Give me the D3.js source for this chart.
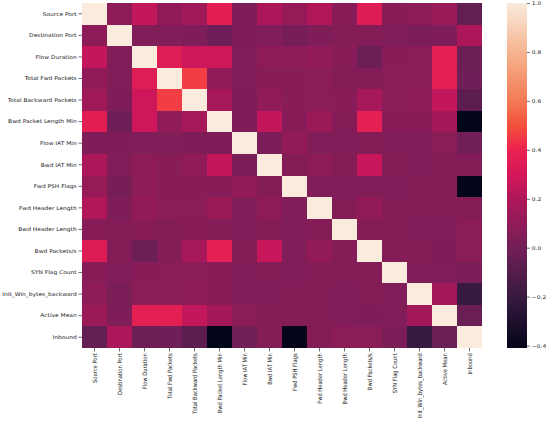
<!DOCTYPE html>
<html><head><meta charset="utf-8">
<script src="https://cdn.jsdelivr.net/npm/d3@7"></script>
<style>
body{margin:0;background:#fff}
svg{display:block}
text{font-family:"DejaVu Sans",sans-serif;fill:#1a1a1a}
</style>
</head><body>
<svg id="chart" width="550" height="423"></svg>
<script>
const labels = ["Source Port","Destination Port","Flow Duration","Total Fwd Packets","Total Backward Packets","Bwd Packet Length Min","Flow IAT Min","Bwd IAT Min","Fwd PSH Flags","Fwd Header Length","Bwd Header Length","Bwd Packets/s","SYN Flag Count","Init_Win_bytes_backward","Active Mean","Inbound"];

const rowSourcePort      = [1, 0.09, 0.25, 0.11, 0.15, 0.36, 0.04, 0.19, 0.12, 0.2, 0.07, 0.34, 0.07, 0.09, 0.13, -0.05];
const rowDestinationPort = [0.09, 1, 0.05, 0.05, 0.04, -0.01, 0.04, 0.05, 0.02, 0.04, 0.06, 0.06, 0.05, 0.03, 0.04, 0.19];
const rowFlowDuration    = [0.25, 0.05, 1, 0.35, 0.28, 0.28, 0.05, 0.09, 0.09, 0.11, 0.07, -0.02, 0.07, 0.08, 0.37, -0.02];
const rowTotalFwd        = [0.11, 0.05, 0.35, 1, 0.46, 0.1, 0.05, 0.07, 0.07, 0.08, 0.06, 0.06, 0.08, 0.08, 0.37, -0.01];
const rowTotalBwd        = [0.15, 0.04, 0.28, 0.46, 1, 0.17, 0.04, 0.1, 0.07, 0.08, 0.07, 0.17, 0.08, 0.09, 0.25, -0.07];
const rowBwdPktLenMin    = [0.36, -0.01, 0.28, 0.1, 0.17, 1, 0.04, 0.25, 0.07, 0.13, 0.06, 0.37, 0.07, 0.07, 0.16, -0.41];
const rowFlowIATMin      = [0.04, 0.04, 0.05, 0.05, 0.04, 0.04, 1, 0.03, 0.11, 0.05, 0.05, 0.06, 0.05, 0.05, 0.08, 0.0];
const rowBwdIATMin       = [0.19, 0.05, 0.09, 0.07, 0.1, 0.25, 0.03, 1, 0.06, 0.09, 0.06, 0.26, 0.06, 0.05, 0.06, 0.06];
const rowFwdPSHFlags     = [0.12, 0.02, 0.09, 0.07, 0.07, 0.07, 0.11, 0.06, 1, 0.05, 0.05, 0.05, 0.05, 0.06, 0.06, -0.405];
const rowFwdHeaderLen    = [0.2, 0.04, 0.11, 0.08, 0.08, 0.13, 0.05, 0.09, 0.05, 1, 0.06, 0.11, 0.06, 0.06, 0.06, 0.06];
const rowBwdHeaderLen    = [0.07, 0.06, 0.07, 0.06, 0.07, 0.06, 0.05, 0.06, 0.05, 0.06, 1, 0.06, 0.06, 0.05, 0.05, 0.08];
const rowBwdPacketsPerS  = [0.34, 0.06, -0.02, 0.06, 0.17, 0.37, 0.06, 0.26, 0.05, 0.11, 0.06, 1, 0.06, 0.06, 0.04, 0.08];
const rowSYNFlagCount    = [0.07, 0.05, 0.07, 0.08, 0.08, 0.07, 0.05, 0.06, 0.05, 0.06, 0.06, 0.06, 1, 0.05, 0.05, 0.03];
const rowInitWinBwd      = [0.09, 0.03, 0.08, 0.08, 0.09, 0.07, 0.05, 0.05, 0.06, 0.06, 0.05, 0.06, 0.05, 1, 0.16, -0.2];
const rowActiveMean      = [0.13, 0.04, 0.37, 0.37, 0.25, 0.16, 0.08, 0.06, 0.06, 0.06, 0.05, 0.04, 0.05, 0.16, 1, -0.03];
const rowInbound         = [-0.05, 0.19, -0.02, -0.01, -0.07, -0.41, 0.0, 0.06, -0.405, 0.06, 0.08, 0.08, 0.03, -0.2, -0.03, 1];

const matrix = [rowSourcePort,rowDestinationPort,rowFlowDuration,rowTotalFwd,rowTotalBwd,rowBwdPktLenMin,rowFlowIATMin,rowBwdIATMin,rowFwdPSHFlags,rowFwdHeaderLen,rowBwdHeaderLen,rowBwdPacketsPerS,rowSYNFlagCount,rowInitWinBwd,rowActiveMean,rowInbound];

const colorbarTicks = [1.0, 0.8, 0.6, 0.4, 0.2, 0.0, -0.2, -0.4];
const vmin = -0.41, vmax = 1.0;

// rocket colormap approximation (position 0..1 -> colour)
const rocketPos = [0, 1/7, 2/7, 3/7, 0.5, 0.575, 0.645, 0.716, 6/7, 1];
const rocketCol = ["#03051a","#35193e","#701f57","#ad1759","#d3175a","#eb2250","#f3503c","#f47a55","#f6b48f","#faebdd"];

const color = d3.scaleLinear()
  .domain(rocketPos.map(t => vmin + t * (vmax - vmin)))
  .range(rocketCol)
  .interpolate(d3.interpolateRgb)
  .clamp(true);

const svg = d3.select("#chart");
const L = 82, R = 482, T = 3, B = 348;
const x = d3.scaleBand().domain(labels).range([L, R]);
const y = d3.scaleBand().domain(labels).range([T, B]);

const fs = 5.3, sx = 1.12, sy = 0.98;

const cells = [];
matrix.forEach((row, i) => row.forEach((v, j) => cells.push({r: labels[i], c: labels[j], v})));
svg.append("g").selectAll("rect").data(cells).join("rect")
  .attr("x", d => x(d.c))
  .attr("y", d => y(d.r))
  .attr("width", x.bandwidth() + 0.3)
  .attr("height", y.bandwidth() + 0.3)
  .attr("fill", d => color(d.v))
  .attr("shape-rendering", "crispEdges");

// y axis
const gy = svg.append("g").attr("transform", `translate(${L},0)`)
  .call(d3.axisLeft(y).tickSize(3.5).tickSizeOuter(0));
gy.select(".domain").remove();
gy.selectAll(".tick line").attr("stroke", "#333").attr("stroke-width", 0.7);
gy.selectAll(".tick text")
  .attr("x", 0).attr("dy", "0.35em")
  .attr("font-size", fs)
  .attr("fill", "#1a1a1a")
  .attr("transform", `translate(-5.3,0) scale(${sx},${sy})`);

// x axis
const gx = svg.append("g").attr("transform", `translate(0,${B})`)
  .call(d3.axisBottom(x).tickSize(3.5).tickSizeOuter(0));
gx.select(".domain").remove();
gx.selectAll(".tick line").attr("stroke", "#333").attr("stroke-width", 0.7);
gx.selectAll(".tick text")
  .attr("x", 0).attr("y", 0).attr("dy", "0.35em")
  .attr("font-size", fs)
  .attr("fill", "#1a1a1a")
  .attr("text-anchor", "end")
  .attr("transform", `translate(0,5.3) scale(${sx},${sy}) rotate(-90)`);

// colorbar
const cbL = 507, cbW = 20;
const cy = d3.scaleLinear().domain([vmin, vmax]).range([B, T]);
const defs = svg.append("defs");
const grad = defs.append("linearGradient").attr("id", "cbgrad")
  .attr("x1", 0).attr("y1", 1).attr("x2", 0).attr("y2", 0);
d3.range(0, 1.0001, 0.01).forEach(t => {
  grad.append("stop").attr("offset", t).attr("stop-color", color(vmin + t * (vmax - vmin)));
});
svg.append("rect").attr("x", cbL).attr("y", T).attr("width", cbW).attr("height", B - T)
  .attr("fill", "url(#cbgrad)");

const gc = svg.append("g").attr("transform", `translate(${cbL + cbW},0)`)
  .call(d3.axisRight(cy).tickValues(colorbarTicks).tickSize(3).tickFormat(d3.format(".1f")));
gc.select(".domain").remove();
gc.selectAll(".tick line").attr("stroke", "#333").attr("stroke-width", 0.7);
gc.selectAll(".tick text")
  .attr("x", 0).attr("dy", "0.35em")
  .attr("font-size", fs)
  .attr("fill", "#1a1a1a")
  .attr("transform", `translate(4.8,0) scale(${sx},${sy})`);
</script>
</body></html>
